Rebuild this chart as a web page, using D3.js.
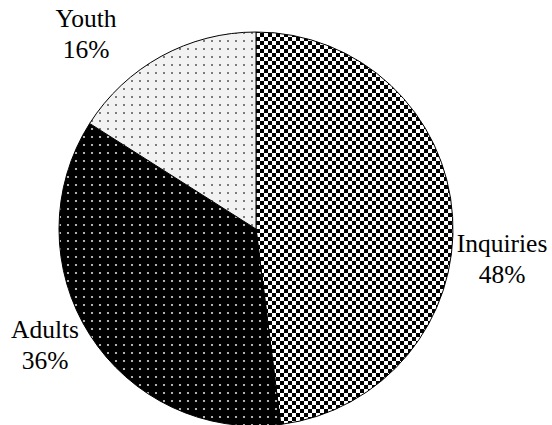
<!DOCTYPE html>
<html>
<head>
<meta charset="utf-8">
<script src="https://cdn.jsdelivr.net/npm/d3@7"></script>
<style>
  body { margin: 0; background: #fff; }
  text { font-family: "Liberation Serif", "Times New Roman", serif; }
</style>
</head>
<body>
<div id="chart"></div>
<script>
// data
var categories = ['Inquiries', 'Adults', 'Youth'];
var shares = [48, 36, 16];
var pctLabels = ['48%', '36%', '16%'];

var width = 552, height = 425;
var cx = 256, cy = 229, radius = 197;

// label centres (layout only)
var labelPos = {
    Inquiries: [502, 252],
    Adults: [45, 338],
    Youth: [86, 27]
};

var svg = d3.select('#chart').append('svg')
    .attr('width', width)
    .attr('height', height);

var defs = svg.append('defs');

// checkerboard
var cs = 4;
var checker = defs.append('pattern')
    .attr('id', 'checker')
    .attr('patternUnits', 'userSpaceOnUse')
    .attr('width', cs * 2).attr('height', cs * 2);
checker.append('rect').attr('width', cs * 2).attr('height', cs * 2).attr('fill', '#fff');
checker.append('rect').attr('width', cs).attr('height', cs).attr('fill', '#000')
    .attr('shape-rendering', 'crispEdges');
checker.append('rect').attr('x', cs).attr('y', cs).attr('width', cs).attr('height', cs).attr('fill', '#000')
    .attr('shape-rendering', 'crispEdges');

// white dots on black
var darkDots = defs.append('pattern')
    .attr('id', 'darkDots')
    .attr('patternUnits', 'userSpaceOnUse')
    .attr('width', 8).attr('height', 8);
darkDots.append('rect').attr('width', 8).attr('height', 8).attr('fill', '#000');
darkDots.append('circle').attr('cx', 4).attr('cy', 4).attr('r', 1.1).attr('fill', '#ddd');

// dark dots on light grey
var lightDots = defs.append('pattern')
    .attr('id', 'lightDots')
    .attr('patternUnits', 'userSpaceOnUse')
    .attr('width', 8).attr('height', 8);
lightDots.append('rect').attr('width', 8).attr('height', 8).attr('fill', '#f2f2f2');
lightDots.append('circle').attr('cx', 4).attr('cy', 4).attr('r', 0.9).attr('fill', '#444');

var fills = d3.scaleOrdinal()
    .domain(categories)
    .range(['url(#checker)', 'url(#darkDots)', 'url(#lightDots)']);

var pie = d3.pie().sort(null).value(function(d, i) { return shares[i]; });
var arc = d3.arc().innerRadius(0).outerRadius(radius);

var g = svg.append('g').attr('transform', 'translate(' + cx + ',' + cy + ')');

g.selectAll('path')
    .data(pie(categories))
    .enter()
    .append('path')
    .attr('d', arc)
    .attr('fill', function(d) { return fills(d.data); })
    .attr('stroke', '#000')
    .attr('stroke-width', 1);

var labels = svg.selectAll('text.lbl')
    .data(categories)
    .enter()
    .append('text')
    .attr('class', 'lbl')
    .attr('text-anchor', 'middle')
    .attr('font-size', 25.5)
    .attr('fill', '#000');

labels.append('tspan')
    .attr('x', function(d) { return labelPos[d][0]; })
    .attr('y', function(d) { return labelPos[d][1]; })
    .text(function(d) { return d; });

labels.append('tspan')
    .attr('x', function(d) { return labelPos[d][0]; })
    .attr('dy', 31)
    .text(function(d, i) { return pctLabels[i]; });
</script>
</body>
</html>
